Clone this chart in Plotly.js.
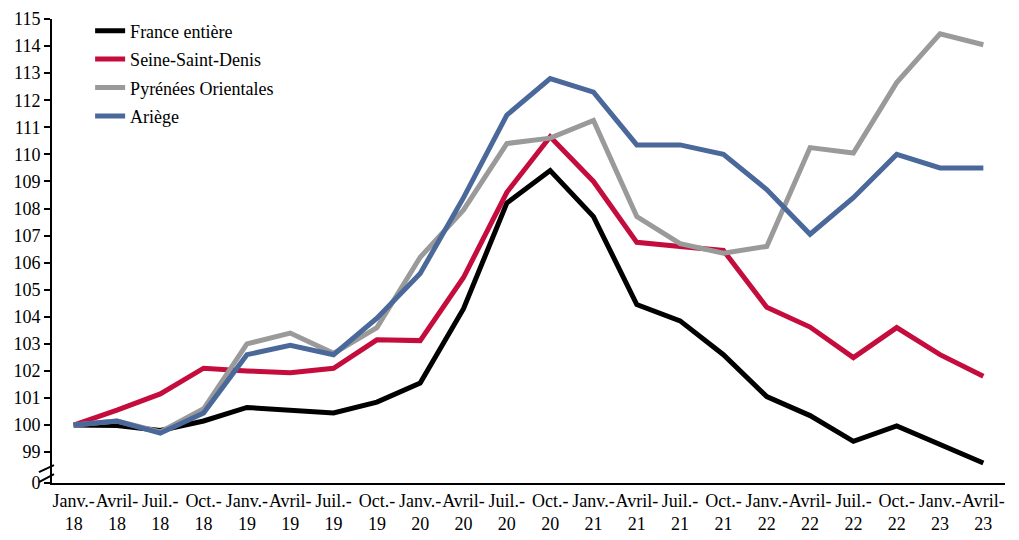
<!DOCTYPE html>
<html>
<head>
<meta charset="utf-8">
<script src="https://cdn.plot.ly/plotly-3.0.1.min.js"></script>
<style>body{margin:0;padding:0;background:#fff}</style>
</head>
<body>
<div id="chart" style="width:1019px;height:540px"></div>
<script>
const periods = ["Janv.-<br>18","Avril-<br>18","Juil.-<br>18","Oct.-<br>18",
  "Janv.-<br>19","Avril-<br>19","Juil.-<br>19","Oct.-<br>19",
  "Janv.-<br>20","Avril-<br>20","Juil.-<br>20","Oct.-<br>20",
  "Janv.-<br>21","Avril-<br>21","Juil.-<br>21","Oct.-<br>21",
  "Janv.-<br>22","Avril-<br>22","Juil.-<br>22","Oct.-<br>22",
  "Janv.-<br>23","Avril-<br>23"];
const franceEntiere = [100, 99.98, 99.8, 100.15, 100.65, 100.55, 100.45, 100.85, 101.55, 104.3, 108.2, 109.4, 107.7, 104.45, 103.85, 102.6, 101.05, 100.35, 99.4, 99.97, 99.3, 98.6];
const seineSaintDenis = [100, 100.55, 101.15, 102.1, 102.0, 101.93, 102.1, 103.15, 103.12, 105.45, 108.6, 110.65, 109.0, 106.75, 106.6, 106.45, 104.35, 103.62, 102.49, 103.6, 102.6, 101.8];
const pyreneesOrientales = [100, 100.15, 99.75, 100.6, 103.0, 103.4, 102.65, 103.6, 106.2, 107.95, 110.4, 110.6, 111.25, 107.7, 106.7, 106.35, 106.6, 110.25, 110.05, 112.65, 114.45, 114.05];
const ariege = [100, 100.15, 99.7, 100.45, 102.6, 102.95, 102.6, 103.95, 105.6, 108.4, 111.45, 112.8, 112.3, 110.35, 110.35, 110.0, 108.7, 107.05, 108.4, 110.0, 109.5, 109.5];
const yTickVals = [97.86, 99, 100, 101, 102, 103, 104, 105, 106, 107, 108, 109, 110, 111, 112, 113, 114, 115];
const yTickText = ["0", "99", "100", "101", "102", "103", "104", "105", "106", "107", "108", "109", "110", "111", "112", "113", "114", "115"];

const idx = periods.map((_, i) => i);
const series = [
  {name: "France entière", y: franceEntiere, color: "#000000"},
  {name: "Seine-Saint-Denis", y: seineSaintDenis, color: "#C40D3C"},
  {name: "Pyrénées Orientales", y: pyreneesOrientales, color: "#9A9A9A"},
  {name: "Ariège", y: ariege, color: "#4A6899"}
];
const traces = series.map((s, i) => ({
  type: "scatter", mode: "lines", name: s.name, x: idx, y: s.y,
  legendgroup: "g" + i,
  line: {color: s.color, width: 5}
}));

const fam = "'Liberation Serif', 'DejaVu Serif', serif";
const layout = {
  width: 1019, height: 540,
  margin: {l: 52, r: 14, t: 16, b: 57},
  paper_bgcolor: "#fff", plot_bgcolor: "#fff",
  font: {family: fam, size: 18, color: "#000"},
  showlegend: true,
  legend: {x: 0.04, y: 1.014, xanchor: "left", yanchor: "top", bgcolor: "rgba(0,0,0,0)",
           font: {family: fam, size: 18, color: "#000"}, tracegroupgap: 2, traceorder: "grouped"},
  xaxis: {
    type: "linear", range: [-0.5, periods.length - 0.5],
    tickmode: "array", tickvals: idx, ticktext: periods, tickangle: 0,
    showgrid: false, zeroline: false, showline: true, linecolor: "#000", linewidth: 2,
    ticks: "", tickfont: {family: fam, size: 18, color: "#000"}
  },
  yaxis: {
    range: [97.86, 115], tickmode: "array", tickvals: yTickVals, ticktext: yTickText,
    showgrid: false, zeroline: false, showline: true, linecolor: "#000", linewidth: 2,
    ticks: "outside", ticklen: 6, tickwidth: 2, tickcolor: "#000",
    tickfont: {family: fam, size: 18, color: "#000"}
  },
  shapes: [
    {type: "line", xref: "paper", yref: "paper", x0: -0.0137, x1: 0.0021, y0: 0.0236, y1: 0.0385, line: {color: "#000", width: 2}},
    {type: "line", xref: "paper", yref: "paper", x0: -0.0137, x1: 0.0021, y0: 0.0021, y1: 0.0193, line: {color: "#000", width: 2}}
  ]
};
Plotly.newPlot("chart", traces, layout, {displayModeBar: false, staticPlot: true});
</script>
</body>
</html>
